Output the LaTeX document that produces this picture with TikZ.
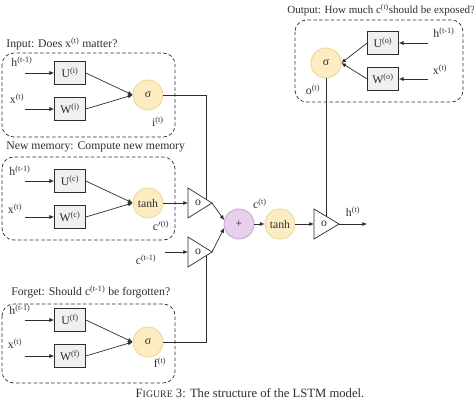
\documentclass[tikz,border=0pt]{standalone}
\usepackage{amsmath, amssymb}
\usepackage{fontspec}
\setmainfont{Liberation Serif}
\usepackage{xcolor}
\usepackage{tikz}
\usetikzlibrary{arrows.meta}

\definecolor{actfill}{RGB}{252,236,194}
\definecolor{actline}{RGB}{236,208,140}
\definecolor{addfill}{RGB}{230,208,236}
\definecolor{addline}{RGB}{192,154,204}
\definecolor{wfill}{RGB}{240,240,240}
\definecolor{ink}{RGB}{45,45,45}

\newcommand{\lstmsup}[1]{\textsuperscript{(#1)}}

\begin{document}
\begin{tikzpicture}[x=0.03cm, y=-0.03cm, ink, line width=0.6pt,
    wbox/.style={draw, fill=wfill, minimum width=0.93cm, minimum height=0.69cm, inner sep=0pt},
    act/.style={circle, draw=actline, fill=actfill, minimum size=0.9cm, inner sep=0pt},
    addnode/.style={circle, draw=addline, fill=addfill, minimum size=0.9cm, inner sep=0pt},
    gate/.style={draw, fill=white},
    region/.style={draw, dash pattern=on 3pt off 2pt, rounded corners=10pt},
    arr/.style={-{Latex[length=4pt,width=3.5pt]}}]
  \useasboundingbox (0,0) rectangle (474,402);

    % Input gate
  \node[anchor=west, inner sep=0pt] (ttli) at (6,44) {Input: Does x\lstmsup{t} matter?};
  \draw[region] (2,53) rectangle (175,137);
  \node[wbox] (Ui) at (70,73) {U\lstmsup{i}};
  \node[wbox] (Wi) at (70,109) {W\lstmsup{i}};
  \node[act] (sigi) at (148,95) {σ};
  \node (hi) at (22,62) {h\lstmsup{t-1}};
  \node (xi) at (17,99) {x\lstmsup{t}};
  \node (ii) at (158,122) {i\lstmsup{t}};
  \coordinate (hiin) at (25,73);
  \coordinate (xiin) at (25,109);
  \draw[arr] (hiin) -- (Ui);
  \draw[arr] (xiin) -- (Wi);
  \draw[arr] (Ui.east) -- (sigi.west);
  \draw[arr] (Wi.east) -- (sigi.west);

    % New memory
  \node[anchor=west, inner sep=0pt] (ttlc) at (6,147) {New memory: Compute new memory};
  \draw[region] (2,157) rectangle (175,240);
  \node[wbox] (Uc) at (70,181) {U\lstmsup{c}};
  \node[wbox] (Wc) at (70,217) {W\lstmsup{c}};
  \node[act] (tanhc) at (148,203) {tanh};
  \node (hc) at (20,171) {h\lstmsup{t-1}};
  \node (xc) at (15,209) {x\lstmsup{t}};
  \node (cc) at (161,226) {c\textsuperscript{$\prime$(t)}};
  \coordinate (hcin) at (25,181);
  \coordinate (xcin) at (25,217);
  \draw[arr] (hcin) -- (Uc);
  \draw[arr] (xcin) -- (Wc);
  \draw[arr] (Uc.east) -- (tanhc.west);
  \draw[arr] (Wc.east) -- (tanhc.west);

    % Forget gate
  \node[anchor=west, inner sep=0pt] (ttlf) at (11,292) {Forget: Should c\lstmsup{t-1} be forgotten?};
  \draw[region] (2,304) rectangle (175,383);
  \node[wbox] (Uf) at (70,320) {U\lstmsup{f}};
  \node[wbox] (Wf) at (70,356) {W\lstmsup{f}};
  \node[act] (sigf) at (148,342) {σ};
  \node (hf) at (20,310) {h\lstmsup{t-1}};
  \node (xf) at (15,344) {x\lstmsup{t}};
  \node (ff) at (160,363) {f\lstmsup{t}};
  \coordinate (hfin) at (25,320);
  \coordinate (xfin) at (25,356);
  \draw[arr] (hfin) -- (Uf);
  \draw[arr] (xfin) -- (Wf);
  \draw[arr] (Uf.east) -- (sigf.west);
  \draw[arr] (Wf.east) -- (sigf.west);

    % Output gate
  \node[anchor=west, inner sep=0pt, font=\fontsize{9.4}{11}\selectfont] (ttlo) at (287,10) {Output: How much c\lstmsup{t}should be exposed?};
  \draw[region] (295,20) rectangle (463,102);
  \node[wbox] (Uo) at (383,43) {U\lstmsup{o}};
  \node[wbox] (Wo) at (383,79) {W\lstmsup{o}};
  \node[act] (sigo) at (326,63) {σ};
  \node (ho) at (444,33) {h\lstmsup{t-1}};
  \node (xo) at (440,70) {x\lstmsup{t}};
  \node (oo) at (313,90) {o\lstmsup{t}};
  \coordinate (hoin) at (428,43);
  \coordinate (xoin) at (428,79);
  \draw[arr] (hoin) -- (Uo);
  \draw[arr] (xoin) -- (Wo);
  \draw[arr] (Uo.west) -- (sigo.east);
  \draw[arr] (Wo.west) -- (sigo.east);

    % Gates (element-wise products)
  \coordinate (g1in) at (188,203);
  \coordinate (g1out) at (212,203);
  \coordinate (g1top) at (206,199.25);
  \draw[gate] (188,188) -- (g1out) -- (188,218) -- cycle;
  \node (g1) at (198,203) {o};
  \coordinate (g2in) at (188,252);
  \coordinate (g2out) at (212,252);
  \coordinate (g2bot) at (206,255.75);
  \draw[gate] (188,237) -- (g2out) -- (188,267) -- cycle;
  \node (g2) at (198,252) {o};
  \coordinate (g3in) at (314,224);
  \coordinate (g3out) at (339,224);
  \coordinate (g3top) at (326,216.8);
  \draw[gate] (314,209) -- (g3out) -- (314,239) -- cycle;
  \node (g3) at (324,224) {o};

    % Cell state
  \node[addnode] (plus) at (239,224) {+};
  \node[act] (tanhh) at (280,224) {tanh};
  \node (ct) at (260,204) {c\lstmsup{t}};
  \node (cprev) at (146,260) {c\lstmsup{t-1}};
  \coordinate (cin) at (165,252);
  \coordinate (hout) at (367,224);
  \node (ht) at (353,212) {h\lstmsup{t}};

  \draw (sigi) -| (g1top);
  \draw[arr] (tanhc) -- (g1in);
  \draw[arr] (cin) -- (g2in);
  \draw (sigf) -| (g2bot);
  \draw[arr] (g1out) -- (plus.165);
  \draw[arr] (g2out) -- (plus.195);
  \draw[arr] (plus) -- (tanhh);
  \draw[arr] (tanhh) -- (g3in);
  \draw (sigo) -- (g3top);
  \draw[arr] (g3out) -- (hout);

    % Caption
  \node[font=\fontsize{10.8}{13}\selectfont] (cap) at (250,393) {F{\fontsize{8.4}{10}\selectfont IGURE} 3: The structure of the LSTM model.};
\end{tikzpicture}
\end{document}
